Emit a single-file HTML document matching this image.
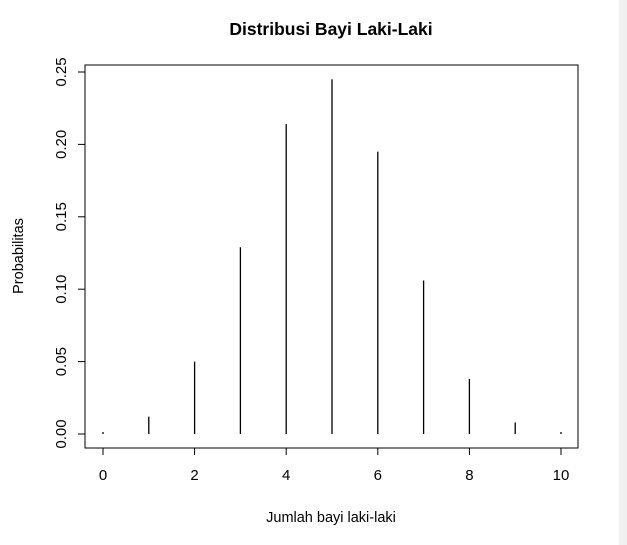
<!DOCTYPE html>
<html><head><meta charset="utf-8"><style>
html,body{margin:0;padding:0;background:#fff}
svg{display:block;font-family:"Liberation Sans",Arial,sans-serif}
</style></head><body>
<svg id="chart" width="627" height="545">
<rect x="619" y="0" width="8" height="545" fill="#f0f0f0"/>
<text x="331" y="35" text-anchor="middle" font-size="17.5" font-weight="bold">Distribusi Bayi Laki-Laki</text>
<rect x="85" y="65" width="493" height="383" fill="none" stroke="#000"/>
<text x="331" y="522" text-anchor="middle" font-size="14.5">Jumlah bayi laki-laki</text>
<text transform="translate(23,256) rotate(-90)" text-anchor="middle" font-size="14.5">Probabilitas</text>
<g id="marks"></g>
</svg>
<script>
const categories=[0,1,2,3,4,5,6,7,8,9,10];
const probs=[0.0014,0.012,0.050,0.129,0.214,0.245,0.195,0.106,0.038,0.008,0.0014];
const xTicks=[0,2,4,6,8,10];
const yTicks=["0.00","0.05","0.10","0.15","0.20","0.25"];
const NS="http://www.w3.org/2000/svg";
const g=document.getElementById('marks');
const xs=v=>103+v*45.8;
const ys=v=>434-v*(362/0.25);
function mk(t,a){const e=document.createElementNS(NS,t);for(const k in a)e.setAttribute(k,a[k]);g.appendChild(e);return e;}
categories.forEach((c,i)=>{
 const l=mk('line',{x1:xs(c),x2:xs(c),y1:ys(0),y2:ys(probs[i]),stroke:'#000','stroke-width':1.3});
 
 
});
mk('line',{x1:xs(0),x2:xs(10),y1:448,y2:448,stroke:'#000'});
xTicks.forEach(t=>{
 mk('line',{x1:xs(t),x2:xs(t),y1:448,y2:455,stroke:'#000'});
 const tx=mk('text',{x:xs(t),y:480,'text-anchor':'middle','font-size':15});
 tx.textContent=t;
 
 
});
mk('line',{x1:85,x2:85,y1:ys(0),y2:ys(0.25),stroke:'#000'});
yTicks.forEach(t=>{
 const y=ys(parseFloat(t));
 mk('line',{x1:78,x2:85,y1:y,y2:y,stroke:'#000'});
 const tx=mk('text',{transform:`translate(66,${y}) rotate(-90)`,'text-anchor':'middle','font-size':15});
 tx.textContent=t;
 
 
});
</script>
</body></html>
